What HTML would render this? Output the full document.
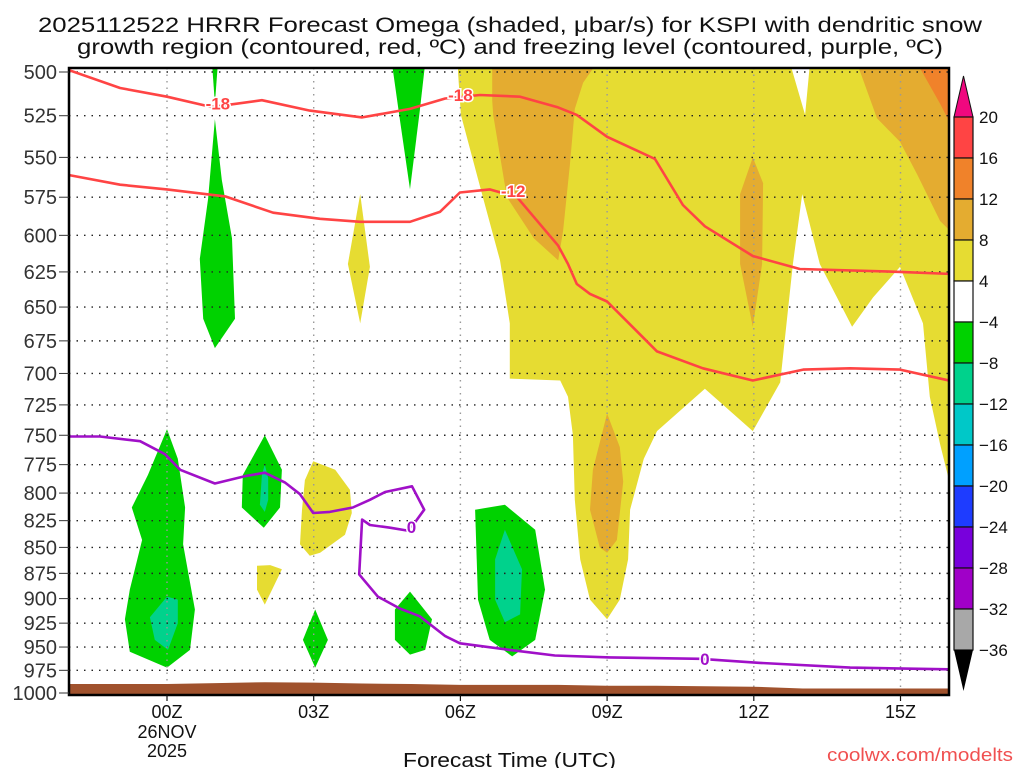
<!DOCTYPE html>
<html><head><meta charset="utf-8"><title>HRRR Omega KSPI</title>
<style>
html,body{margin:0;padding:0;background:#fff;}
svg{display:block;font-family:"Liberation Sans",sans-serif;}
</style></head>
<body>
<svg id="chart" width="1024" height="768" viewBox="0 0 1024 768" xmlns="http://www.w3.org/2000/svg">
<rect x="0" y="0" width="1024" height="768" fill="#fff"/>
<text x="38" y="32" font-size="21" textLength="944" lengthAdjust="spacingAndGlyphs" fill="#111">2025112522 HRRR Forecast Omega (shaded, μbar/s) for KSPI with dendritic snow</text>
<text x="77" y="54" font-size="21" textLength="866" lengthAdjust="spacingAndGlyphs" fill="#111">growth region (contoured, red, ºC) and freezing level (contoured, purple, ºC)</text>
<defs><clipPath id="plotclip"><rect x="69" y="68" width="880" height="627"/></clipPath></defs>
<g id="shading" clip-path="url(#plotclip)"></g>
<g id="grid"></g>
<g id="contours" clip-path="url(#plotclip)"></g>
<g id="terrain" clip-path="url(#plotclip)"></g>
<rect x="69" y="68" width="880" height="627" fill="none" stroke="#000" stroke-width="2.5"/>
<g id="yaxis"></g>
<g id="xaxis"></g>
<text x="403" y="767" font-size="20" textLength="213" lengthAdjust="spacingAndGlyphs" fill="#111">Forecast Time (UTC)</text>
<text x="827" y="761" font-size="18" textLength="186" lengthAdjust="spacingAndGlyphs" fill="#f05050">coolwx.com/modelts</text>
<g id="colorbar"></g>
</svg>
<script>
const NS='http://www.w3.org/2000/svg';
const pressureTicks=[500,525,550,575,600,625,650,675,700,725,750,775,800,825,850,875,900,925,950,975,1000];
const hourTicks=[0,3,6,9,12,15];
const hourTickLabels=['00Z','03Z','06Z','09Z','12Z','15Z'];
const cbLevels=[20,16,12,8,4,-4,-8,-12,-16,-20,-24,-28,-32,-36];
const cbColors=['#ff4444','#f0822a','#e4ac30','#e6dc32','#ffffff','#00d200','#00d28c','#00c8c8','#00a0ff','#1e3cff','#7800dc','#a000c8','#a8a8a8'];
const terrainHours=[-2,-1,0,1,2,3,4,5,6,7,8,9,10,11,12,13,14,15,16];
const terrainP=[990,990,990,989,988,988.5,989.5,990,991,991,991,992,992,992.5,993,995,995,995,995];
const yellowMain=[[5.95,500],[6.01,524.5],[6.46,575],[6.81,617],[7.01,662],[7.01,704],[8.04,705.5],[8.20,718.5],[8.30,750],[8.34,806],[8.45,861.5],[8.65,901],[9.00,921],[9.26,901],[9.43,861.5],[9.47,815],[9.75,770],[10.02,746.5],[11.00,712],[11.98,746.5],[12.54,707],[12.80,619.5],[12.99,573],[13.35,619.5],[14.01,664.5],[14.44,643],[14.99,621.5],[15.46,662],[15.60,718.5],[15.81,757.5],[16.0,790],[16.2,790],[16.2,495],[13.15,495],[13.05,524.5],[12.74,495],[5.95,495]];
const yellowLens=[[3.95,573],[4.15,621.5],[3.95,662],[3.70,619.5]];
const yellowBlob=[[2.99,772],[3.44,779.5],[3.74,797],[3.78,818],[3.64,838],[3.13,855],[2.92,858],[2.72,847],[2.76,815],[2.82,788.5]];
const yellowSmall=[[1.84,867.5],[2.11,867],[2.35,871],[2.15,891],[2.00,906],[1.84,891]];
const orangeA=[[6.65,495],[6.65,516],[6.67,524.5],[6.95,575],[7.5,602],[8.00,617],[8.10,597],[8.24,554.5],[8.34,521],[8.51,506],[8.79,495]];
const orangeB=[[11.98,550],[11.72,573],[11.72,619.5],[11.98,664.5],[12.17,619.5],[12.19,566]];
const orangeC=[[9.00,732],[8.71,779.5],[8.65,815],[8.85,850],[9.00,855],[9.20,843],[9.33,790],[9.26,760]];
const orangeD=[[14.11,495],[14.52,526.5],[14.99,540.5],[15.34,560.5],[15.81,590.5],[16.2,603],[16.2,495]];
const darkOrangeE=[[15.34,495],[16.2,495],[16.2,540],[15.81,518]];
const greenTop1=[[0.92,495],[1.04,495],[0.98,518]];
const greenLens1=[[0.98,527],[0.84,576],[0.67,616],[0.74,658.5],[0.98,680.5],[1.39,658.5],[1.33,602],[1.12,564]];
const greenTop5=[[4.60,495],[5.28,495],[5.17,522],[4.97,570],[4.76,527]];
const greenLeft=[[0,745],[-0.39,784],[-0.72,813],[-0.51,843],[-0.76,891],[-0.86,921],[-0.76,955],[0,972],[0.47,953],[0.57,911],[0.33,847],[0.37,813],[0.22,770]];
const tealLeft=[[0,898],[-0.35,919],[-0.25,942.5],[0.02,953],[0.22,925],[0.22,901]];
const green02=[[2.00,750],[1.55,784],[1.53,813],[1.98,831.5],[2.31,813],[2.35,779.5]];
const teal02=[[2.00,775],[2.07,787],[2.07,806],[2.00,817],[1.90,810.5],[1.94,784]];
const green03=[[3.03,911],[3.29,942.5],[3.03,972],[2.78,942.5]];
const green05=[[4.97,893],[5.42,921],[5.28,953],[4.97,958],[4.66,942.5],[4.66,911]];
const green07=[[6.30,815],[6.91,810.5],[7.53,833.5],[7.73,891],[7.53,942.5],[7.06,960],[6.60,942.5],[6.36,901]];
const teal07=[[6.91,833.5],[7.26,871],[7.22,916],[6.91,924],[6.71,901],[6.71,861.5]];
const redMinus18=[[-2.0,499],[-0.96,509],[0,514],[0.92,520],[1.94,516],[2.92,522],[3.99,526],[4.97,521],[5.69,515],[6.40,513],[7.22,514],[7.98,520],[8.38,524.5],[9.00,537.5],[9.98,551],[10.55,580],[11.00,594],[11.98,614],[12.94,623],[14.99,625],[16.1,626.5]];
const redMinus12=[[-2.0,561],[-0.96,567],[0,570],[1.19,574.5],[2.17,585],[3.13,589],[3.95,591],[4.97,591],[5.58,584.5],[5.99,572],[6.60,570],[7.16,575],[8.00,607],[8.20,619.5],[8.38,633.5],[8.65,640.5],[9.00,646],[10.02,683],[10.96,696],[11.98,705.5],[13.01,697],[13.97,696],[14.99,697],[16.1,706.5]];
const purpleZero=[[-2.0,751],[-1.37,751],[-0.55,755],[-0.04,766],[0.27,779.5],[0.98,791.5],[1.60,785],[2.00,782],[2.41,790.5],[2.72,801],[2.99,818],[3.33,817],[3.80,813],[4.15,806],[4.46,799],[5.01,794],[5.26,815],[5.05,828],[4.89,834],[4.56,831.5],[4.15,829],[3.99,824],[3.93,876],[4.31,898],[4.76,910],[5.17,918],[5.69,938.5],[5.99,946],[7.01,953],[7.93,959],[9.06,961],[10.90,962.5],[12.13,967],[13.97,972],[16.1,974]];
const contourLabels=[['-18',1.04,518,'#ff4444'],['-18',6.0,513,'#ff4444'],['-12',7.08,571,'#ff4444'],['0',5.0,831,'#a010c8'],['0',11.0,963,'#a010c8']];

function xs(h){return 167+48.9*h;}
function ys(p){return 72+621*Math.log2(p/500);}
function pts(arr){return arr.map(d=>xs(d[0]).toFixed(1)+','+ys(d[1]).toFixed(1)).join(' ');}

const shading=document.getElementById('shading');
function poly(arr,color,name){
  const e=document.createElementNS(NS,'polygon');
  e.setAttribute('points',pts(arr));e.setAttribute('fill',color);
  
  
  shading.appendChild(e);
}
poly(yellowMain,'#e6dc32','yellow-region-main');
poly(yellowLens,'#e6dc32','yellow-region-lens');
poly(yellowBlob,'#e6dc32','yellow-region-blob');
poly(yellowSmall,'#e6dc32','yellow-region-small');
poly(orangeA,'#e4ac30','orange-region-a');
poly(orangeB,'#e4ac30','orange-region-b');
poly(orangeC,'#e4ac30','orange-region-c');
poly(orangeD,'#e4ac30','orange-region-d');
poly(darkOrangeE,'#f0822a','dark-orange-region');
poly(greenTop1,'#00d200','green-region-top-01z');
poly(greenLens1,'#00d200','green-region-01z');
poly(greenTop5,'#00d200','green-region-top-05z');
poly(greenLeft,'#00d200','green-region-00z');
poly(tealLeft,'#00d28c','teal-region-00z');
poly(green02,'#00d200','green-region-02z');
poly(teal02,'#00d28c','teal-region-02z');
poly(green03,'#00d200','green-region-03z');
poly(green05,'#00d200','green-region-05z');
poly(green07,'#00d200','green-region-07z');
poly(teal07,'#00d28c','teal-region-07z');

const grid=document.getElementById('grid');
pressureTicks.forEach(p=>{
  const l=document.createElementNS(NS,'line');
  l.setAttribute('x1',69);l.setAttribute('x2',949);l.setAttribute('y1',ys(p));l.setAttribute('y2',ys(p));
  l.setAttribute('stroke','#222');l.setAttribute('stroke-width','1.4');l.setAttribute('stroke-dasharray','1.5,6');
  
  
  grid.appendChild(l);
});
hourTicks.forEach(h=>{
  const l=document.createElementNS(NS,'line');
  l.setAttribute('x1',xs(h));l.setAttribute('x2',xs(h));l.setAttribute('y1',68);l.setAttribute('y2',695);
  l.setAttribute('stroke','#999');l.setAttribute('stroke-width','1.4');l.setAttribute('stroke-dasharray','1.5,5');
  
  
  grid.appendChild(l);
});

const cont=document.getElementById('contours');
function line(arr,color,name){
  const e=document.createElementNS(NS,'polyline');
  e.setAttribute('points',pts(arr));e.setAttribute('fill','none');e.setAttribute('stroke',color);
  e.setAttribute('stroke-width','2.6');e.setAttribute('stroke-linejoin','round');
  
  
  cont.appendChild(e);
}
line(redMinus18,'#ff4444','contour-minus-18');
line(redMinus12,'#ff4444','contour-minus-12');
line(purpleZero,'#a010c8','freezing-level-contour');
contourLabels.forEach(c=>{
  const t=document.createElementNS(NS,'text');
  t.setAttribute('x',xs(c[1]));t.setAttribute('y',ys(c[2])+6);
  t.setAttribute('text-anchor','middle');t.setAttribute('font-size','17');t.setAttribute('font-weight','bold');
  t.setAttribute('fill',c[3]);t.setAttribute('stroke','#fff');t.setAttribute('stroke-width','3');t.setAttribute('paint-order','stroke');
  t.textContent=c[0];
  
  
  cont.appendChild(t);
});

const ter=document.getElementById('terrain');
const tp=terrainHours.map((h,i)=>[h,terrainP[i]]);
const tpoly=document.createElementNS(NS,'polygon');
tpoly.setAttribute('points',pts(tp)+' '+xs(16)+',700 '+xs(-2)+',700');
tpoly.setAttribute('fill','#a0522d');


ter.appendChild(tpoly);

const ya=document.getElementById('yaxis');
pressureTicks.forEach(p=>{
  const t=document.createElementNS(NS,'text');
  t.setAttribute('x',57);t.setAttribute('y',ys(p)+7);t.setAttribute('text-anchor','end');
  t.setAttribute('font-size','20');t.setAttribute('fill','#333');
  t.textContent=p;
  
  
  ya.appendChild(t);
  const k=document.createElementNS(NS,'line');
  k.setAttribute('x1',59);k.setAttribute('x2',69);k.setAttribute('y1',ys(p));k.setAttribute('y2',ys(p));
  k.setAttribute('stroke','#333');k.setAttribute('stroke-width','1');
  
  
  ya.appendChild(k);
});
const xa=document.getElementById('xaxis');
hourTicks.forEach((h,i)=>{
  const t=document.createElementNS(NS,'text');
  t.setAttribute('x',xs(h));t.setAttribute('y',718);t.setAttribute('text-anchor','middle');
  t.setAttribute('font-size','18');t.setAttribute('fill','#111');
  t.textContent=hourTickLabels[i];
  
  
  xa.appendChild(t);
  const k=document.createElementNS(NS,'line');
  k.setAttribute('x1',xs(h));k.setAttribute('x2',xs(h));k.setAttribute('y1',695);k.setAttribute('y2',701);
  k.setAttribute('stroke','#111');k.setAttribute('stroke-width','1.2');
  
  
  xa.appendChild(k);
});
[['26NOV',738],['2025',757]].forEach(d=>{
  const t=document.createElementNS(NS,'text');
  t.setAttribute('x',xs(0));t.setAttribute('y',d[1]);t.setAttribute('text-anchor','middle');
  t.setAttribute('font-size','18');t.setAttribute('fill','#111');
  t.textContent=d[0];
  
  
  xa.appendChild(t);
});

const cb=document.getElementById('colorbar');
function cby(i){return 117+i*41;}
const cbTop=document.createElementNS(NS,'polygon');
cbTop.setAttribute('points','954,117 973,117 963.5,76');cbTop.setAttribute('fill','#f0087f');cbTop.setAttribute('stroke','#111');


cb.appendChild(cbTop);
cbColors.forEach((c,i)=>{
  const r=document.createElementNS(NS,'rect');
  r.setAttribute('x',954);r.setAttribute('y',cby(i));r.setAttribute('width',19);r.setAttribute('height',41);
  r.setAttribute('fill',c);r.setAttribute('stroke','#111');r.setAttribute('stroke-width','1.2');
  
  
  cb.appendChild(r);
});
const cbBot=document.createElementNS(NS,'polygon');
cbBot.setAttribute('points','954,650 973,650 963.5,691');cbBot.setAttribute('fill','#000');


cb.appendChild(cbBot);
cbLevels.forEach((v,i)=>{
  const t=document.createElementNS(NS,'text');
  t.setAttribute('x',979);t.setAttribute('y',cby(i)+6);
  t.setAttribute('font-size','17');t.setAttribute('fill','#111');
  t.textContent=v<0?'\u2212'+Math.abs(v):String(v);
  
  
  cb.appendChild(t);
});
</script>
</body></html>
